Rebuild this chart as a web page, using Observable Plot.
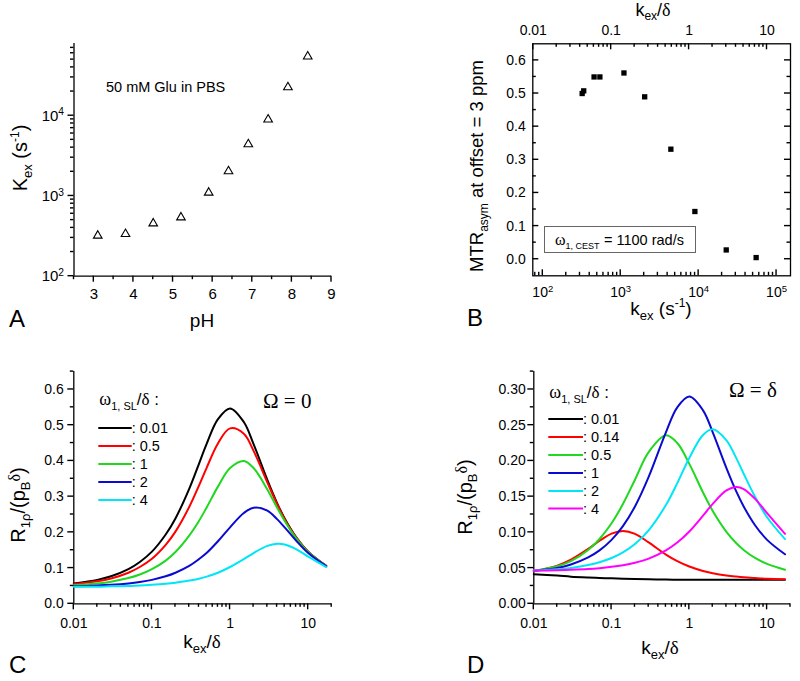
<!DOCTYPE html>
<html><head><meta charset="utf-8">
<script src="https://cdn.jsdelivr.net/npm/d3@7"></script>
<script src="https://cdn.jsdelivr.net/npm/@observablehq/plot@0.6"></script>
<style>
body{margin:0;background:#fff;}
#wrap{position:relative;width:800px;height:681px;font-family:"Liberation Sans",Arial,sans-serif;}
#wrap > svg{position:absolute;}
</style></head><body><div id="wrap"></div>
<script>
// ---------- DATA ----------
// Panel A / B : exchange rate vs pH, MTRasym vs exchange rate
const pH = [3.1, 3.8, 4.5, 5.2, 5.9, 6.4, 6.9, 7.4, 7.9, 8.4];
const kex = [320, 335, 455, 540, 1100, 2030, 4400, 8950, 22600, 54700];
const mtrAsym = [0.500, 0.508, 0.550, 0.550, 0.562, 0.490, 0.332, 0.144, 0.028, 0.005];
const deltaRad = 7540; // rad/s, 3 ppm  (top axis kex/delta)

// Panel C : Omega = 0
const kC = [0.01,0.02,0.03,0.05,0.07,0.1,0.15,0.2,0.3,0.4,0.5,0.7,1,1.5,2,3,4,5,7,10,17];
const c_001 = [0.057,0.067,0.077,0.097,0.117,0.146,0.194,0.239,0.322,0.392,0.447,0.517,0.547,0.509,0.447,0.347,0.282,0.239,0.187,0.146,0.106];
const c_05  = [0.055,0.063,0.071,0.087,0.103,0.126,0.165,0.202,0.271,0.331,0.380,0.449,0.491,0.476,0.428,0.340,0.279,0.237,0.186,0.146,0.106];
const c_1   = [0.052,0.057,0.062,0.072,0.082,0.097,0.121,0.145,0.191,0.232,0.269,0.328,0.380,0.400,0.380,0.320,0.269,0.232,0.184,0.145,0.105];
const c_2   = [0.049,0.051,0.053,0.057,0.061,0.067,0.077,0.087,0.106,0.125,0.142,0.175,0.214,0.254,0.269,0.261,0.237,0.214,0.177,0.142,0.105];
const c_4   = [0.048,0.048,0.049,0.050,0.051,0.053,0.056,0.059,0.065,0.070,0.076,0.087,0.103,0.125,0.142,0.162,0.168,0.166,0.153,0.132,0.103];
const seriesC = ["0.01","0.5","1","2","4"];
const colorsC = ["#000000","#ff0000","#1fd81f","#0a0ad0","#00e6f6"];

// Panel D : Omega = delta
const kD = [0.01,0.02,0.03,0.05,0.07,0.1,0.14,0.2,0.3,0.5,0.7,1,1.5,2,3,4,5,7,10,17];
const d_001 = [0.0415,0.0395,0.0380,0.0368,0.0362,0.0356,0.0350,0.0346,0.0342,0.0339,0.0337,0.0336,0.0335,0.0335,0.0335,0.0335,0.0335,0.0335,0.0335,0.0335];
const d_014 = [0.0455,0.0535,0.0618,0.0768,0.0882,0.0982,0.1019,0.0978,0.0859,0.0689,0.0597,0.0522,0.0460,0.0429,0.0397,0.0381,0.0371,0.0361,0.0352,0.0345];
const d_05  = [0.0460,0.0525,0.0597,0.0754,0.0907,0.1127,0.1397,0.1737,0.2123,0.2358,0.2250,0.1958,0.1558,0.1299,0.1007,0.0850,0.0754,0.0642,0.0558,0.0476];
const d_1   = [0.0460,0.0500,0.0550,0.0650,0.0748,0.0895,0.1087,0.1362,0.1776,0.2400,0.2749,0.2900,0.2708,0.2400,0.1900,0.1576,0.1362,0.1100,0.0895,0.0693];
const d_2   = [0.0465,0.0482,0.0502,0.0542,0.0582,0.0641,0.0721,0.0838,0.1029,0.1383,0.1689,0.2042,0.2362,0.2442,0.2288,0.2042,0.1821,0.1499,0.1211,0.0906];
const d_4   = [0.0465,0.0470,0.0476,0.0487,0.0499,0.0517,0.0540,0.0575,0.0633,0.0748,0.0857,0.1012,0.1234,0.1399,0.1587,0.1634,0.1606,0.1469,0.1269,0.0979];
const seriesD = ["0.01","0.14","0.5","1","2","4"];
const colorsD = ["#000000","#ff0000","#1fd81f","#0a0ad0","#00e6f6","#ff00ff"];

// tick labels
const pHTicks = [3,4,5,6,7,8,9];
const ratioTicks = [0.01,0.1,1,10];
const ratioLabels = ["0.01","0.1","1","10"];

// ---------- HELPERS ----------
function logMinor(lo, hi){const out=[];for(let e=-3;e<=6;e++){for(let m=2;m<=9;m++){const v=m*Math.pow(10,e);if(v>=lo*0.999&&v<=hi*1.001)out.push(v);}}return out;}
function ratioFmt(r){const e=Math.round(Math.log10(r));return ratioLabels[e+2];}
const sans = "Liberation Sans, Arial, sans-serif";
const serif="Liberation Serif, Times New Roman, serif";
const style = {fontFamily:sans,fontSize:"14px",background:"transparent",color:"#000",overflow:"visible"};
const wrap = document.getElementById("wrap");
const sw = 1.3;
const NS = "http://www.w3.org/2000/svg";
const tickLayer = [];   // tick rectangles [x, y, w, h] computed from the plots' scales
const TW = 1.4;         // tick thickness

function toD3(s){const f = s.type==="log" ? d3.scaleLog() : d3.scaleLinear(); return f.domain(s.domain).range(s.range);}
function place(svg,left,top){svg.style.left=left+"px";svg.style.top=top+"px";
  svg.querySelectorAll("text").forEach(t=>{
    const s=t.textContent; if(t.children.length===0 && s.includes("^")){
      const [b,e]=s.split("^"); t.textContent=b;
      const ts=document.createElementNS(NS,"tspan");
      ts.setAttribute("dy","-0.5em"); ts.setAttribute("font-size","0.68em"); ts.textContent=e; t.appendChild(ts);
    }});
  wrap.appendChild(svg);
  return {sx:toD3(svg.scale("x")), sy:toD3(svg.scale("y")), left, top};
}
function ticksX(p, vals, yEdge, len, dir){
  const y0 = p.top + p.sy(yEdge);
  vals.forEach(v=>{const x=p.left+p.sx(v); if(isFinite(x)&&isFinite(y0)) tickLayer.push([x-TW/2, dir>0?y0:y0-len, TW, len]);});
}
function ticksY(p, vals, xEdge, len, dir){
  const x0 = p.left + p.sx(xEdge);
  vals.forEach(v=>{const y=p.top+p.sy(v); if(isFinite(x0)&&isFinite(y)) tickLayer.push([dir>0?x0:x0-len, y-TW/2, len, TW]);});
}

// ---------- PANEL A ----------
const rowsA = pH.map((p,i)=>({pH:p,kex:kex[i]}));
const pHMinor = [2.5,3.5,4.5,5.5,6.5,7.5,8.5];
const pA = place(Plot.plot({
  width:400,height:340,marginLeft:73.5,marginRight:69,marginTop:43,marginBottom:64.3,
  x:{domain:[2.5,9]}, y:{type:"log",domain:[100,79400]}, style,
  marks:[
    Plot.axisX({ticks:pHTicks,tickSize:0,tickPadding:12,fontSize:15,label:null,tickFormat:d=>String(d)}),
    Plot.axisY({ticks:[100,1000,10000],tickSize:0,tickPadding:10,fontSize:15,label:null,tickFormat:d=>"10^"+Math.round(Math.log10(d))}),
    Plot.ruleY([100],{strokeWidth:sw}),
    Plot.ruleX([2.5],{strokeWidth:sw}),
    Plot.dot(rowsA,{x:"pH",y:"kex",symbol:"triangle",r:3.2,stroke:"#000",fill:"none",strokeWidth:1.1})
  ]}),0,0);
ticksX(pA,pHTicks,100,6,1); ticksX(pA,pHMinor,100,3.5,1);
ticksY(pA,[100,1000,10000],2.5,6,-1); ticksY(pA,logMinor(100,79400),2.5,3.5,-1);

// ---------- PANEL B ----------
const rowsB = kex.map((k,i)=>({kex:k,mtr:mtrAsym[i]}));
const bMajor=[100,1000,10000,100000];
const bDom=[74.4,151000];
const topMajor = ratioTicks.map(r=>r*deltaRad);
const topMinor = logMinor(0.011,19).map(r=>r*deltaRad);
const yMajB=[0,0.1,0.2,0.3,0.4,0.5,0.6];
const yMinB=[0.05,0.15,0.25,0.35,0.45,0.55];
const pB = place(Plot.plot({
  width:400,height:340,marginLeft:132.3,marginRight:10,marginTop:43.3,marginBottom:64.7,
  x:{type:"log",domain:bDom}, y:{domain:[-0.05,0.65]}, style,
  marks:[
    Plot.axisX({anchor:"bottom",ticks:bMajor,tickSize:0,tickPadding:11,fontSize:14,label:null,tickFormat:d=>"10^"+Math.round(Math.log10(d))}),
    Plot.axisY({anchor:"left",ticks:yMajB,tickSize:0,tickPadding:7,fontSize:14,label:null,tickFormat:d3.format(".1f")}),
    Plot.text(topMajor,{x:d=>d,text:d=>ratioFmt(d/deltaRad),frameAnchor:"top",lineAnchor:"bottom",dy:-9,fontSize:14}),
    Plot.frame({stroke:"#000",strokeWidth:sw}),
    Plot.dot(rowsB,{x:"kex",y:"mtr",symbol:"square",r:3,fill:"#000",stroke:"none"})
  ]}),400,0);
ticksX(pB,bMajor,-0.05,6,-1); ticksX(pB,logMinor(bDom[0],bDom[1]),-0.05,3.5,-1);
ticksX(pB,topMajor,0.65,6,1); ticksX(pB,topMinor,0.65,3.5,1);
ticksY(pB,yMajB,bDom[0],6,1); ticksY(pB,yMinB,bDom[0],3.5,1);
ticksY(pB,yMajB,bDom[1],6,-1); ticksY(pB,yMinB,bDom[1],3.5,-1);

// ---------- PANEL C / D ----------
const xMinorCD = logMinor(0.011,20);
function curvePanel(kk, seriesVals, colors, yMax, yMaj, yMin, fmt, mL, mR, tpY, left, top){
  const marks=[
    Plot.axisX({ticks:ratioTicks,tickSize:0,tickPadding:14,fontSize:14,label:null,tickFormat:d=>ratioFmt(d)}),
    Plot.axisY({ticks:yMaj,tickSize:0,tickPadding:tpY,fontSize:14,label:null,tickFormat:d3.format(fmt)}),
    Plot.ruleY([0],{strokeWidth:sw}),
    Plot.ruleX([0.01],{strokeWidth:sw})
  ];
  seriesVals.forEach((vals,i)=>{
    const rows=kk.map((k,j)=>({k,v:vals[j]}));
    marks.push(Plot.line(rows,{x:"k",y:"v",stroke:colors[i],strokeWidth:2,curve:"catmull-rom"}));
  });
  const p = place(Plot.plot({width:400,height:341,marginLeft:mL,marginRight:mR,marginTop:31.1,marginBottom:77.7,
    x:{type:"log",domain:[0.01,20]},y:{domain:[0,yMax]},style,marks}),left,top);
  ticksX(p,ratioTicks,0,6,1); ticksX(p,xMinorCD,0,3.5,1);
  ticksY(p,yMaj,0.01,6,-1); ticksY(p,yMin,0.01,3.5,-1);
}
curvePanel(kC,[c_001,c_05,c_1,c_2,c_4],colorsC,0.65,
  [0,0.1,0.2,0.3,0.4,0.5,0.6],[0.05,0.15,0.25,0.35,0.45,0.55,0.65],".1f",73.3,68.8,10,0,340);
curvePanel(kD,[d_001,d_014,d_05,d_1,d_2,d_4],colorsD,0.325,
  [0,0.05,0.1,0.15,0.2,0.25,0.3],[0.025,0.075,0.125,0.175,0.225,0.275,0.325],".2f",133.3,10,8,400,340);

// ---------- ANNOTATION LAYER (ticks, text, legends) ----------
function legend(x0,x1,yTitle,rows,labels,colors){
  let s=`<text x="${x0+1}" y="${yTitle}" font-size="17"><tspan font-family="${serif}" font-size="18">ω</tspan><tspan font-size="11" dy="5">1, SL</tspan><tspan dy="-5">/</tspan><tspan font-family="${serif}">δ</tspan><tspan> :</tspan></text>`;
  labels.forEach((l,i)=>{
    s+=`<line x1="${x0}" x2="${x1}" y1="${rows[i]}" y2="${rows[i]}" stroke="${colors[i]}" stroke-width="2"/>`;
    s+=`<text x="${x1}" y="${rows[i]+5}" font-size="14.5">: ${l}</text>`;
  });
  return s;
}
const kexLbl = (cx,y)=>`<text x="${cx}" y="${y}" text-anchor="middle" font-size="19">k<tspan font-size="13" dy="5">ex</tspan><tspan dy="-5">/</tspan><tspan font-family="${serif}">δ</tspan></text>`;
const rLbl = (x,cy)=>`<text transform="translate(${x},${cy}) rotate(-90)" text-anchor="middle" font-size="20">R<tspan font-size="13" dy="5">1ρ</tspan><tspan dy="-5">/(p</tspan><tspan font-size="13" dy="5">B</tspan><tspan font-family="${serif}" font-size="16" dy="-10">δ</tspan><tspan dy="5">)</tspan></text>`;
let ov = `<svg xmlns="${NS}" width="800" height="681" style="left:0;top:0" font-family="${sans}" fill="#000">`;
ov += `<g fill="#000" stroke="none">` + tickLayer.map(t=>`<rect x="${t[0].toFixed(2)}" y="${t[1].toFixed(2)}" width="${t[2].toFixed(2)}" height="${t[3].toFixed(2)}"/>`).join("") + `</g>`;
// A
ov += `<text x="9" y="327" font-size="24">A</text>`;
ov += `<text x="202" y="327" text-anchor="middle" font-size="19">pH</text>`;
ov += `<text x="106" y="92" font-size="14.5">50 mM Glu in PBS</text>`;
ov += `<text transform="translate(27,158) rotate(-90)" text-anchor="middle" font-size="20">K<tspan font-size="13" dy="5">ex</tspan><tspan dy="-5"> (s</tspan><tspan font-size="12" dy="-8">-1</tspan><tspan dy="8">)</tspan></text>`;
// B
ov += `<text x="467" y="326" font-size="24">B</text>`;
ov += `<text x="661" y="315" text-anchor="middle" font-size="19">k<tspan font-size="13" dy="5">ex</tspan><tspan dy="-5"> (s</tspan><tspan font-size="12" dy="-8">-1</tspan><tspan dy="8">)</tspan></text>`;
ov += `<text x="653" y="16" text-anchor="middle" font-size="18">k<tspan font-size="12" dy="4">ex</tspan><tspan dy="-4">/</tspan><tspan font-family="${serif}">δ</tspan></text>`;
ov += `<text transform="translate(483,166) rotate(-90)" text-anchor="middle" font-size="18.5">MTR<tspan font-size="12" dy="5">asym</tspan><tspan dy="-5"> at offset = 3 ppm</tspan></text>`;
ov += `<rect x="544.5" y="226.5" width="151" height="26" fill="#fff" stroke="#666" stroke-width="1"/>`;
ov += `<text x="555" y="245" font-size="14.5"><tspan font-family="${serif}" font-size="16">ω</tspan><tspan font-size="9" dy="4">1, CEST</tspan><tspan x="604" dy="-4">= 1100 rad/s</tspan></text>`;
// C
ov += `<text x="9" y="673" font-size="24">C</text>`;
ov += kexLbl(202,648);
ov += rLbl(25,505);
ov += legend(98.3,131.7,405,[428,446,464,482,500],seriesC,colorsC);
ov += `<text x="263" y="408" font-family="${serif}" font-size="21">Ω = 0</text>`;
// D
ov += `<text x="467" y="673" font-size="24">D</text>`;
ov += kexLbl(660,654);
ov += rLbl(472,497);
ov += legend(548.3,583,398,[419,437,455,473,491,508.5],seriesD,colorsD);
ov += `<text x="729" y="397" font-family="${serif}" font-size="21">Ω = δ</text>`;
ov += `</svg>`;
wrap.insertAdjacentHTML("beforeend", ov);
</script></body></html>
